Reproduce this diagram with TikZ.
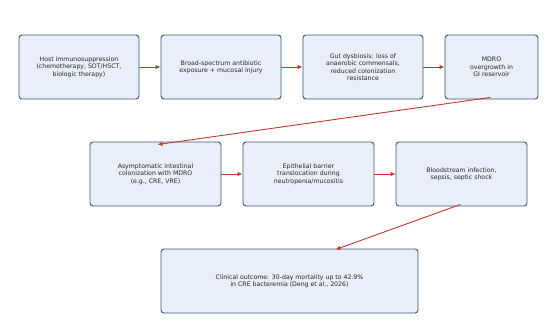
\documentclass[tikz,border=0pt]{standalone}
\usepackage{fontspec}
\setmainfont{DejaVu Sans}
\usetikzlibrary{arrows.meta,calc}
\definecolor{boxfill}{HTML}{E9EFF8}
\definecolor{boxline}{HTML}{3E5577}
\definecolor{arrowred}{HTML}{C0392B}
\begin{document}
\begin{tikzpicture}[x=1pt,y=-1pt,
  box/.style={draw=boxline, fill=boxfill, line width=0.9pt, rounded corners=3pt,
    align=center, inner sep=0pt, font=\fontsize{6.2}{7.4}\selectfont, text=black!85},
  flow/.style={draw=arrowred, line width=0.9pt, -{Latex[length=5pt,width=4.5pt]}}]
\useasboundingbox (0,0) rectangle (557,332);
\node[box, minimum width=120pt, minimum height=64pt] (b1) at (79,67) {Host immunosuppression\\(chemotherapy, SOT/HSCT,\\biologic therapy)};
\node[box, minimum width=120pt, minimum height=64pt] (b2) at (221,67) {Broad-spectrum antibiotic\\exposure + mucosal injury};
\node[box, minimum width=120pt, minimum height=64pt] (b3) at (363,67) {Gut dysbiosis: loss of\\anaerobic commensals,\\reduced colonization\\resistance};
\node[box, minimum width=93pt, minimum height=64pt] (b4) at (491.5,67) {MDRO\\overgrowth in\\GI reservoir};
\node[box, minimum width=131pt, minimum height=64pt] (b5) at (155.5,174) {Asymptomatic intestinal\\colonization with MDRO\\(e.g., CRE, VRE)};
\node[box, minimum width=131pt, minimum height=64pt] (b6) at (308.5,174) {Epithelial barrier\\translocation during\\neutropenia/mucositis};
\node[box, minimum width=131pt, minimum height=64pt] (b7) at (461.5,174) {Bloodstream infection,\\sepsis, septic shock};
\node[box, minimum width=257pt, minimum height=64pt] (b8) at (289.5,281) {Clinical outcome: 30-day mortality up to 42.9\%\\in CRE bacteremia (Deng et al., 2026)};
\draw[flow] (b1.east) -- (b2.west);
\draw[flow] (b2.east) -- (b3.west);
\draw[flow] (b3.east) -- (b4.west);
\draw[flow] (b5.east) -- (b6.west);
\draw[flow] (b6.east) -- (b7.west);
\coordinate (s4) at ($(b4.south)+(-1,-2)$);
\coordinate (e5) at ($(b5.north)+(2,3)$);
\draw[flow] (s4) -- (e5);
\coordinate (s7) at ($(b7.south)+(-1,-2)$);
\coordinate (e8) at ($(b8.north)+(46,1)$);
\draw[flow] (s7) -- (e8);
\end{tikzpicture}
\end{document}
